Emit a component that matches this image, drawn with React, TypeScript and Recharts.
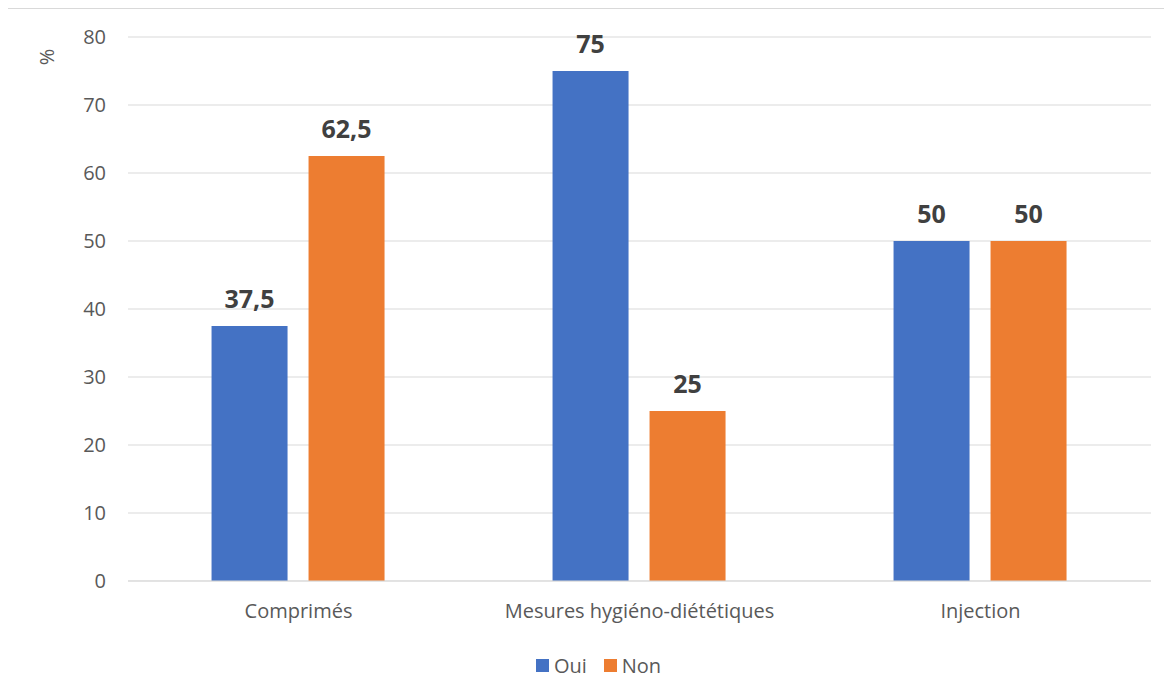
import React from 'react';
import { BarChart, Bar, XAxis, YAxis, CartesianGrid, Legend, LabelList } from 'recharts';

const categories = ['Comprimés', 'Mesures hygiéno-diététiques', 'Injection'];
const ouiValues = [37.5, 75, 50];
const nonValues = [62.5, 25, 50];
const yTicks = [0, 10, 20, 30, 40, 50, 60, 70, 80];

const data = categories.map((c, i) => ({ name: c, Oui: ouiValues[i], Non: nonValues[i] }));

const FONT = "'Open Sans', 'Liberation Sans', sans-serif";
const fmt = (v: any) => String(v).replace('.', ',');

const LegendContent = () => (
  <div style={{ height: 68, display: 'flex', justifyContent: 'center', alignItems: 'flex-start', paddingTop: 11, boxSizing: 'border-box', fontFamily: FONT, fontSize: 20, color: '#595959' }}>
    <span style={{ display: 'inline-flex', alignItems: 'center', marginRight: 17 }}>
      <span style={{ width: 13, height: 13, background: '#4472C4', display: 'inline-block', marginRight: 5 }} />Oui
    </span>
    <span style={{ display: 'inline-flex', alignItems: 'center' }}>
      <span style={{ width: 13, height: 13, background: '#ED7D31', display: 'inline-block', marginRight: 5 }} />Non
    </span>
  </div>
);

const PercentLabel = (props: any) => {
  const vb = props.viewBox || { x: 0, y: 28 };
  const x = vb.x + 38;
  const y = vb.y + 20;
  return (
    <text x={x} y={y} transform={`rotate(-90 ${x} ${y})`} textAnchor="middle" dominantBaseline="central" fill="#595959" fontSize={20} fontFamily={FONT}>%</text>
  );
};

export default function App() {
  return (
    <div style={{ width: 1181, height: 700, border: '1px solid #d9d9d9', marginLeft: -1, position: 'relative', background: '#fff' }}>
      <BarChart width={1181} height={700} data={data} margin={{ top: 28, right: 38, left: 0, bottom: 0 }} barCategoryGap="24.5%" barGap={21}>
        <CartesianGrid vertical={false} stroke="#d9d9d9" strokeWidth={1} />
        <XAxis dataKey="name" height={60} axisLine={{ stroke: '#d9d9d9' }} tickLine={false} tick={{ fill: '#595959', fontSize: 20, fontFamily: FONT }} dy={15} />
        <YAxis width={120} domain={[0, 80]} ticks={yTicks} axisLine={false} tickLine={false} tick={{ fill: '#595959', fontSize: 20, fontFamily: FONT }} dx={-14}
          label={<PercentLabel />} />
        <Legend verticalAlign="bottom" content={<LegendContent />} wrapperStyle={{ left: 0, width: 1181 }} />
        <Bar dataKey="Oui" fill="#4472C4" isAnimationActive={false}>
          <LabelList dataKey="Oui" position="top" offset={18} formatter={fmt} fill="#404040" fontSize={25} fontWeight="bold" fontFamily={FONT} />
        </Bar>
        <Bar dataKey="Non" fill="#ED7D31" isAnimationActive={false}>
          <LabelList dataKey="Non" position="top" offset={18} formatter={fmt} fill="#404040" fontSize={25} fontWeight="bold" fontFamily={FONT} />
        </Bar>
      </BarChart>
    </div>
  );
}
